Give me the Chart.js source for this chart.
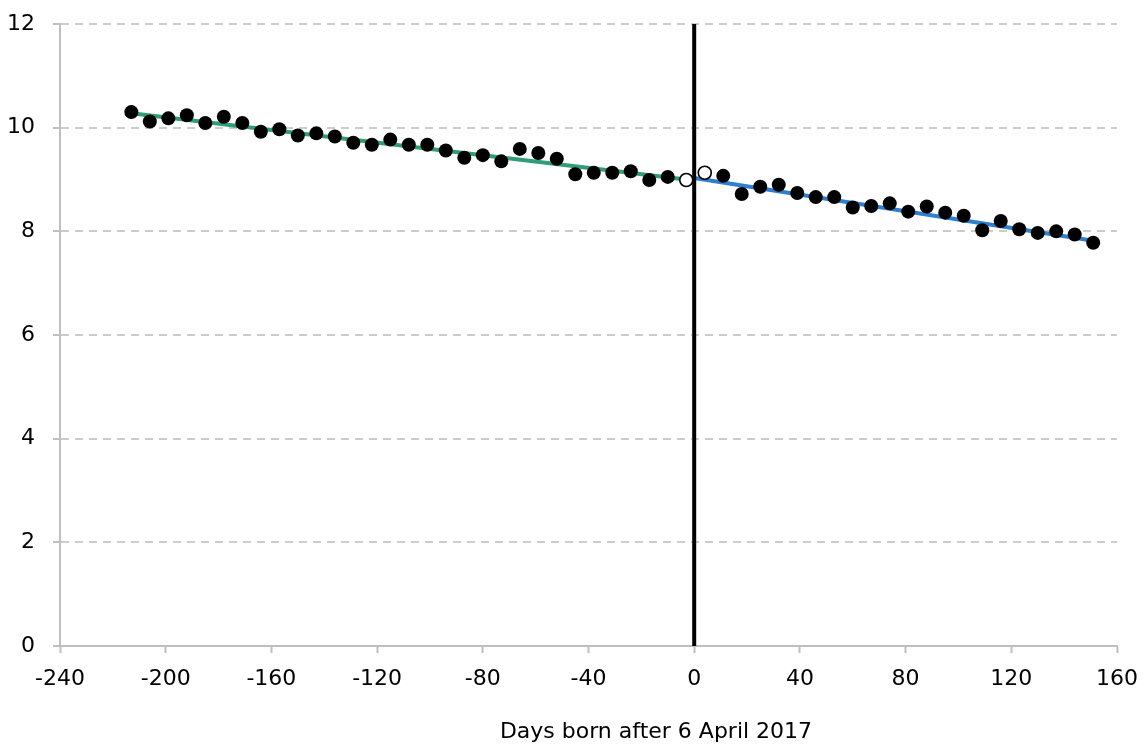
<!DOCTYPE html>
<html>
<head>
<meta charset="utf-8">
<script src="https://cdn.jsdelivr.net/npm/chart.js@4.4.1/dist/chart.umd.min.js"></script>
<style>
html,body{margin:0;padding:0;background:#fff;}
canvas{display:block;}
</style>
</head>
<body>
<canvas id="c" width="1145" height="747"></canvas>
<script>
// Days born after 6 April 2017 (weekly cohorts)
const daysBefore = [-213,-206,-199,-192,-185,-178,-171,-164,-157,-150,-143,-136,-129,-122,-115,-108,-101,-94,-87,-80,-73,-66,-59,-52,-45,-38,-31,-24,-17,-10];
const valuesBefore = [10.30,10.12,10.18,10.24,10.09,10.21,10.09,9.92,9.97,9.85,9.89,9.83,9.71,9.67,9.77,9.67,9.67,9.56,9.42,9.47,9.35,9.59,9.51,9.40,9.10,9.13,9.13,9.16,8.99,9.05];
const daysOpen = [-3,4];
const valuesOpen = [8.99,9.13];
const daysAfter = [11,18,25,32,39,46,53,60,67,74,81,88,95,102,109,116,123,130,137,144,151];
const valuesAfter = [9.07,8.72,8.86,8.90,8.74,8.66,8.66,8.46,8.49,8.54,8.38,8.48,8.36,8.30,8.02,8.20,8.04,7.97,8.00,7.94,7.78];
// fitted trend lines (end points)
const trendBeforeDays = [-213,0];
const trendBeforeValues = [10.28,8.98];
const trendAfterDays = [0,151];
const trendAfterValues = [9.03,7.82];
// cut-off line
const cutoffDays = [0,0];
const cutoffValues = [0,12];
const xTicks = [-240,-200,-160,-120,-80,-40,0,40,80,120,160];
const yTicks = [0,2,4,6,8,10,12];
const xTitle = 'Days born after 6 April 2017';

const pts = (xs, ys) => xs.map((x,i)=>({x:x,y:ys[i]}));
const FONT = "'DejaVu Sans', sans-serif";

// axis title placed where the reference has it (below the x axis)
const axisTitlePlugin = {
  id: 'axisTitle',
  afterDraw(chart) {
    const ctx = chart.ctx;
    ctx.save();
    ctx.font = "22px " + FONT;
    ctx.fillStyle = '#000';
    ctx.textAlign = 'center';
    ctx.textBaseline = 'alphabetic';
    ctx.fillText(xTitle, 656, 738);
    ctx.restore();
  }
};

new Chart(document.getElementById('c'), {
  type: 'scatter',
  data: {
    datasets: [
      {data: pts(daysBefore, valuesBefore), backgroundColor:'#000', borderColor:'#000', pointRadius:7, pointBorderWidth:0, order:1},
      {data: pts(daysAfter, valuesAfter), backgroundColor:'#000', borderColor:'#000', pointRadius:7, pointBorderWidth:0, order:1},
      {data: pts(daysOpen, valuesOpen), backgroundColor:'#fff', borderColor:'#000', pointRadius:6.5, pointBorderWidth:1.6, order:0},
      {type:'line', data: pts(trendBeforeDays, trendBeforeValues), borderColor:'#2f9e74', borderWidth:4, pointRadius:0, fill:false, order:3},
      {type:'line', data: pts(trendAfterDays, trendAfterValues), borderColor:'#2f7fcf', borderWidth:4, pointRadius:0, fill:false, order:3},
      {type:'line', data: pts(cutoffDays, cutoffValues), borderColor:'#000', borderWidth:4, pointRadius:0, fill:false, order:2, clip:false}
    ]
  },
  options: {
    responsive:false,
    animation:false,
    events:[],
    layout:{padding:{left:0, top:24, right:28, bottom:0}},
    plugins:{legend:{display:false}, tooltip:{enabled:false}},
    scales:{
      x:{
        type:'linear', min:-240, max:160,
        afterBuildTicks: s => { s.ticks = xTicks.map(v=>({value:v})); },
        afterFit: s => { s.height = 101; s.paddingLeft = 0; s.paddingRight = 0; },
        ticks:{color:'#000', font:{family:FONT, size:22}, padding:13, maxRotation:0, autoSkip:false},
        grid:{drawOnChartArea:false, drawTicks:true, tickLength:7, tickColor:'#bfbfbf', tickWidth:2},
        border:{display:true, color:'#bfbfbf', width:2},
        title:{display:false}
      },
      y:{
        type:'linear', min:0, max:12,
        afterBuildTicks: s => { s.ticks = yTicks.map(v=>({value:v})); },
        afterFit: s => { s.width = 60; s.paddingTop = 0; s.paddingBottom = 0; },
        ticks:{color:'#000', font:{family:FONT, size:22}, padding:18},
        grid:{drawOnChartArea:true, drawTicks:true, tickLength:7, color:'#cccccc', lineWidth:2, tickColor:'#bfbfbf', tickWidth:2, tickBorderDash:[]},
        border:{display:true, color:'#bfbfbf', width:2, dash:[8,6]}
      }
    }
  },
  plugins:[axisTitlePlugin]
});
</script>
</body>
</html>
